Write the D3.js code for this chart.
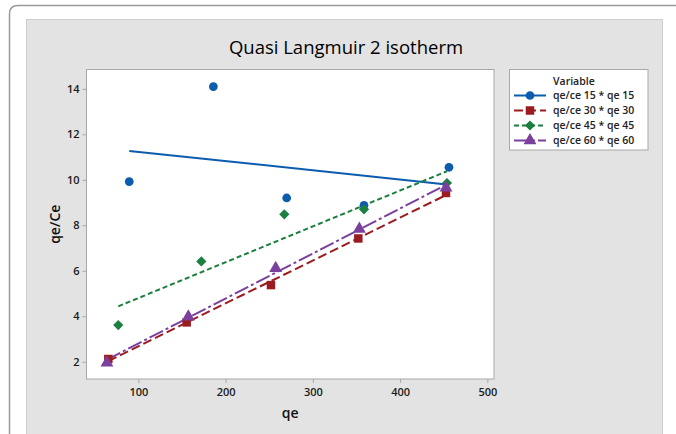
<!DOCTYPE html>
<html>
<head>
<meta charset="utf-8">
<script src="https://cdn.jsdelivr.net/npm/d3@7"></script>
<style>
  html, body { margin: 0; padding: 0; background: #ffffff; }
  svg { display: block; font-family: "Open Sans", "Noto Sans", sans-serif; }
</style>
</head>
<body>
<svg id="chart" width="676" height="434"></svg>
<script>
// ---- data ----
const seriesNames = ["qe/ce 15 * qe 15", "qe/ce 30 * qe 30", "qe/ce 45 * qe 45", "qe/ce 60 * qe 60"];
const qe15 = [89.6, 186.0, 270.0, 358.6, 456.0];
const qeCe15 = [9.92, 14.10, 9.20, 8.88, 10.55];
const qe30 = [65.6, 155.4, 252.0, 352.1, 452.6];
const qeCe30 = [2.12, 3.73, 5.37, 7.42, 9.42];
const qe45 = [77.0, 172.2, 267.3, 358.6, 453.7];
const qeCe45 = [3.61, 6.41, 8.48, 8.70, 9.86];
const qe60 = [64.0, 157.3, 257.4, 353.3, 452.6];
const qeCe60 = [1.95, 3.98, 6.11, 7.84, 9.65];
const xTicks = [100, 200, 300, 400, 500];
const yTicks = [2, 4, 6, 8, 10, 12, 14];
const titleText = "Quasi Langmuir 2 isotherm";
const xLabel = "qe";
const yLabel = "qe/Ce";
const legendTitle = "Variable";

// ---- styles ----
const styles = [
  { color: "#0b5cad", dash: null, symbol: d3.symbolCircle, size: 60, rot: 0 },
  { color: "#9b1c20", dash: "9,4", symbol: d3.symbolSquare, size: 72, rot: 0 },
  { color: "#1a7f3f", dash: "5,3", symbol: d3.symbolSquare, size: 52, rot: 45 },
  { color: "#7b3f9e", dash: "15,3,3,3", symbol: d3.symbolTriangle, size: 72, rot: 0 }
];
const xs = [qe15, qe30, qe45, qe60];
const ys = [qeCe15, qeCe30, qeCe45, qeCe60];

const svg = d3.select("#chart");

// outer frame
svg.append("path")
  .attr("d", "M9.5,434 L9.5,14 Q9.5,5.5 18,5.5 L676,5.5")
  .attr("fill", "none").attr("stroke", "#9a9a9a").attr("stroke-width", 1.5);

// gray panel
svg.append("rect").attr("x", 26.5).attr("y", 19.5).attr("width", 636).attr("height", 430)
  .attr("fill", "#e3e3e3").attr("stroke", "#cdcdcd");

// plot area
const P = { left: 86.5, right: 494, top: 69.5, bottom: 379 };
svg.append("rect").attr("x", P.left).attr("y", P.top)
  .attr("width", P.right - P.left).attr("height", P.bottom - P.top)
  .attr("fill", "#ffffff").attr("stroke", "#a8a8a8");

const x = d3.scaleLinear().domain([40.6, 507.6]).range([P.left, P.right]);
const y = d3.scaleLinear().domain([1.24, 14.85]).range([P.bottom, P.top]);

// axes
const xAxis = svg.append("g").attr("transform", `translate(0,${P.bottom})`)
  .call(d3.axisBottom(x).tickValues(xTicks).tickSize(4).tickPadding(3).tickFormat(d3.format("d")));
const yAxis = svg.append("g").attr("transform", `translate(${P.left},0)`)
  .call(d3.axisLeft(y).tickValues(yTicks).tickSize(4).tickPadding(3).tickFormat(d3.format("d")));
[xAxis, yAxis].forEach(g => {
  g.select(".domain").remove();
  g.selectAll(".tick line").attr("stroke", "#a8a8a8");
  g.selectAll(".tick text").attr("fill", "#1a1a1a").attr("font-size", 11)
    .attr("font-weight", 600).attr("font-family", "\"Open Sans\", sans-serif");
});
xAxis.selectAll(".tick text").attr("dy", "0.9em");

// title and axis labels
svg.append("text").attr("x", 346).attr("y", 54).attr("text-anchor", "middle")
  .attr("font-size", 18.5).attr("font-weight", 500).attr("fill", "#000").text(titleText);
svg.append("text").attr("x", (P.left + P.right) / 2).attr("y", 418).attr("text-anchor", "middle")
  .attr("font-size", 14).attr("font-weight", 600).attr("fill", "#111").text(xLabel);
svg.append("text").attr("transform", `translate(60,${(P.top + P.bottom) / 2}) rotate(-90)`)
  .attr("text-anchor", "middle").attr("font-size", 14).attr("font-weight", 600)
  .attr("fill", "#111").text(yLabel);

// least-squares fit lines over each series' qe range
function fit(xv, yv) {
  const mx = d3.mean(xv), my = d3.mean(yv);
  let sxy = 0, sxx = 0;
  xv.forEach((v, i) => { sxy += (v - mx) * (yv[i] - my); sxx += (v - mx) * (v - mx); });
  const b = sxy / sxx, a = my - b * mx;
  const x0 = d3.min(xv), x1 = d3.max(xv);
  return [[x0, a + b * x0], [x1, a + b * x1]];
}
const line = d3.line().x(d => x(d[0])).y(d => y(d[1]));
const plot = svg.append("g");

xs.forEach((xv, k) => {
  const s = styles[k];
  plot.append("path").datum(fit(xv, ys[k])).attr("d", line)
    .attr("fill", "none").attr("stroke", s.color).attr("stroke-width", 2)
    .attr("stroke-dasharray", s.dash);
});
xs.forEach((xv, k) => {
  const s = styles[k];
  plot.selectAll(null).data(xv.map((v, i) => [v, ys[k][i]])).enter().append("path")
    .attr("d", d3.symbol().type(s.symbol).size(s.size))
    .attr("transform", d => `translate(${x(d[0])},${y(d[1])}) rotate(${s.rot})`)
    .attr("fill", s.color);
});

// legend
const L = { x: 509.5, y: 69.5, w: 138.5, h: 80.5 };
const lg = svg.append("g");
lg.append("rect").attr("x", L.x).attr("y", L.y).attr("width", L.w).attr("height", L.h)
  .attr("fill", "#ffffff").attr("stroke", "#a8a8a8");
lg.append("text").attr("x", 553).attr("y", 85).attr("font-size", 10.5).attr("font-weight", 600)
  .attr("fill", "#222").text(legendTitle);
seriesNames.forEach((name, k) => {
  const s = styles[k];
  const cy = 95.5 + k * 15;
  lg.append("line").attr("x1", 514).attr("x2", 546).attr("y1", cy).attr("y2", cy)
    .attr("stroke", s.color).attr("stroke-width", 2).attr("stroke-dasharray", s.dash);
  lg.append("path").attr("d", d3.symbol().type(s.symbol).size(s.size))
    .attr("transform", `translate(530,${cy}) rotate(${s.rot})`).attr("fill", s.color);
  lg.append("text").attr("x", 553).attr("y", cy + 3.8).attr("font-size", 10.5)
    .attr("font-weight", 600).attr("fill", "#222").text(name);
});
</script>
</body>
</html>
